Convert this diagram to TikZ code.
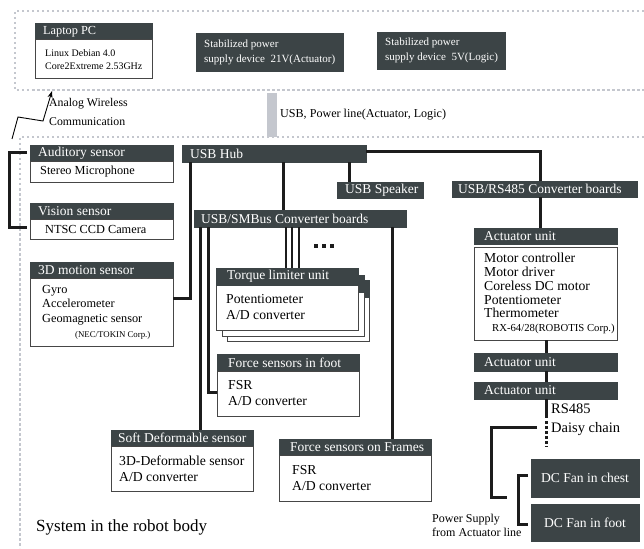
\documentclass[tikz,border=0pt]{standalone}
\usepackage{fontspec}
\setmainfont{Liberation Serif}
\usetikzlibrary{arrows.meta}
\definecolor{hdrc}{RGB}{60,68,70}
\definecolor{dotc}{RGB}{196,199,206}
\definecolor{linec}{RGB}{28,28,28}
\definecolor{bodyc}{RGB}{70,70,70}
\tikzset{
  hdrbox/.style={draw=hdrc, fill=hdrc, anchor=north west, inner sep=0pt, outer sep=0pt},
  bodybx/.style={draw=bodyc, line width=1pt, fill=white, anchor=north west, inner sep=0pt, outer sep=0pt},
  htext/.style={text=white, anchor=west, inner sep=0pt, align=left, font=\fontsize{13.5}{15}\selectfont},
  btext/.style={text=black, anchor=west, inner sep=0pt, align=left, font=\fontsize{13.7}{16}\selectfont},
  smallbody/.style={font=\fontsize{12.3}{14.7}\selectfont},
  fanbox/.style={hdrbox, text=white, minimum width=108pt, minimum height=38pt, font=\fontsize{13.6}{15}\selectfont},
  plain/.style={inner sep=0pt, anchor=west, align=left},
  conn/.style={draw=linec, line width=3pt},
  thinconn/.style={draw=linec, line width=2.5pt},
  dotborder/.style={draw=dotc, line width=2.5pt, dash pattern=on 2.5pt off 2.5pt},
}
\newcommand\hbx[7][]{%
  \node[hdrbox, minimum width=#5pt, minimum height=#6pt] (#2) at (#3,#4) {};
  \node[htext, #1] (#2t) at ([xshift=8pt]#2.west) {#7};
}
\newcommand\bbx[7][]{%
  \node[bodybx, minimum width=#5pt, minimum height=#6pt] (#2) at (#3,#4) {};
  \node[btext, #1] (#2t) at ([xshift=10pt]#2.west) {#7};
}
\begin{document}
\begin{tikzpicture}[x=1pt,y=-1pt]
\useasboundingbox (0,0) rectangle (644,548);
\fill[white] (0,0) rectangle (644,548);

% dotted regions
\draw[dotborder] (644,11) -- (15,11) -- (15,90) -- (644,90);
\draw[dotborder] (644,137) -- (20,137) -- (20,548);
\fill[dotc] (267,93) rectangle (277,137);

% top row
\hbx[font=\fontsize{12.3}{14}\selectfont]{lph}{35}{23}{117}{17}{Laptop PC}
\bbx[font=\fontsize{10}{13}\selectfont]{lpb}{35}{40}{117}{39}{Linux Debian 4.0\\Core2Extreme 2.53GHz}
\hbx[font=\fontsize{11}{15}\selectfont]{psa}{196}{33}{147}{38}{Stabilized power\\supply device\ \ 21V(Actuator)}
\hbx[font=\fontsize{11}{15}\selectfont]{psl}{377}{32}{128}{37}{Stabilized power\\supply device\ \ 5V(Logic)}

\node[plain, font=\fontsize{11.8}{19}\selectfont] (wl) at (49,112) {Analog Wireless\\Communication};
\node[plain, font=\fontsize{12.1}{14}\selectfont] (usbp) at (280,115) {USB, Power line(Actuator, Logic)};
\coordinate (wzs) at (12,139);
\coordinate (wze) at (52,91);
\draw[line width=0.9pt, -{Stealth[length=7pt,width=5pt]}] (wzs) -- ++(6,-22) -- ++(25,4) -- (wze);

% left sensors
\hbx{audh}{30}{145}{143}{16}{Auditory sensor}
\bbx[smallbody]{audb}{30}{161}{143}{21}{Stereo Microphone}
\hbx{vish}{30}{203}{143}{16}{Vision sensor}
\bbx[smallbody, xshift=5pt]{visb}{30}{219}{143}{20}{NTSC CCD Camera}
\hbx{moth}{30}{262}{143}{16}{3D motion sensor}
\bbx[smallbody, xshift=2pt]{motb}{30}{278}{143}{68}{Gyro\\Accelerometer\\Geomagnetic sensor\\\hspace*{33pt}{\fontsize{8.8}{10}\selectfont(NEC/TOKIN Corp.)}}
\coordinate (ba1) at (27,153);
\coordinate (ba2) at (27,227);
\draw[conn] (ba1) -- ++(-18,0) |- (ba2);

% hub and converters
\hbx{hub}{182}{145}{184}{17}{USB Hub}
\hbx[xshift=-1pt]{smb}{194}{210}{212}{17}{USB/SMBus Converter boards}
\hbx{spk}{337}{182}{86}{16}{USB Speaker}
\hbx[xshift=-2pt]{rs}{452}{181}{185}{16}{USB/RS485 Converter boards}

% actuators
\hbx[xshift=2pt]{act1}{474}{228}{143}{16}{Actuator unit}
\bbx[font=\fontsize{13.7}{13.8}\selectfont]{act1b}{474}{247}{143}{93}{Motor controller\\Motor driver\\Coreless DC motor\\Potentiometer\\Thermometer\\\hspace*{8pt}{\fontsize{10.7}{12}\selectfont RX-64/28(ROBOTIS Corp.)}}
\hbx[xshift=2pt]{act2}{474}{353}{143}{18}{Actuator unit}
\hbx[xshift=2pt]{act3}{474}{382}{143}{17}{Actuator unit}
\node[plain, font=\fontsize{14.5}{16}\selectfont] (rs485) at (551,409) {RS485};
\node[plain, font=\fontsize{14.5}{16}\selectfont] (daisy) at (551,429) {Daisy chain};

% fans
\node[fanbox] (fanc) at (531,459) {DC Fan in chest};
\node[fanbox, minimum height=37pt] (fanf) at (531,504) {DC Fan in foot};
\node[plain, font=\fontsize{12}{14}\selectfont] (pws) at (432,525) {Power Supply\\from Actuator line};

% torque stack
\node[bodybx, minimum width=142pt, minimum height=61pt] (tq3) at (227,280) {};
\node[hdrbox, minimum width=142pt, minimum height=17pt] (tq3h) at (227,280) {};
\node[bodybx, minimum width=142pt, minimum height=61pt] (tq2) at (222,275) {};
\node[hdrbox, minimum width=142pt, minimum height=17pt] (tq2h) at (222,275) {};
\bbx{tqb}{216}{285}{142}{45}{Potentiometer\\A/D converter}
\hbx[xshift=3pt]{tqh}{216}{268}{142}{17}{Torque limiter unit}

% other sensor boxes
\hbx[xshift=3pt]{ffh}{217}{354}{142}{17}{Force sensors in foot}
\bbx[xshift=1pt]{ffb}{217}{371}{142}{45}{FSR\\A/D converter}
\hbx[xshift=-1pt]{sdh}{111}{430}{142}{16}{Soft Deformable sensor}
\bbx[xshift=-2pt]{sdb}{111}{446}{142}{45}{3D-Deformable sensor\\A/D converter}
\hbx[xshift=3pt]{frh}{279}{439}{152}{16}{Force sensors on Frames}
\bbx[xshift=3pt]{frb}{279}{455}{152}{46}{FSR\\A/D converter}

\node[plain, font=\fontsize{17}{20}\selectfont] (sys) at (36,527) {System in the robot body};

% connectors
\draw[conn] ([xshift=8pt]hub.south west) |- ([yshift=-20pt]motb.north east);
\draw[conn] ([xshift=101pt]hub.south west) -- ([xshift=89pt]smb.north west);
\draw[conn] ([xshift=167pt]hub.south west) -- ([xshift=12pt]spk.north west);
\draw[conn] ([yshift=1.5pt]hub.east) -| ([xshift=88pt]rs.north west);
\draw[conn] ([xshift=88pt]rs.south west) -- ([xshift=66pt]act1.north west);
\draw[conn] ([xshift=72pt]act1b.south west) -- ([xshift=72pt]act2.north west);
\draw[conn] ([xshift=72pt]act2.south west) -- ([xshift=72pt]act3.north west);
\coordinate (ch1) at ([xshift=72pt,yshift=-19pt]act3.south west);
\coordinate (ch2) at ([xshift=72pt,yshift=-48pt]act3.south west);
\draw[conn] ([xshift=72pt]act3.south west) -- (ch1);
\draw[conn, dash pattern=on 3pt off 2pt] ([yshift=-3pt]ch1) -- (ch2);
\coordinate (br1) at (537,427);
\coordinate (br2) at (507,497);
\draw[conn] (br1) -- ++(-46,0) |- (br2);
\coordinate (bq1) at (528,475);
\coordinate (bq2) at (528,524);
\draw[conn] (bq1) -- ++(-10,0) |- (bq2);

\draw[thinconn] ([xshift=92pt]smb.south west) -- ([xshift=70pt]tqh.north west);
\draw[thinconn] ([xshift=98pt]smb.south west) -- ([xshift=76pt]tqh.north west);
\draw[thinconn] ([xshift=105pt]smb.south west) -- ([xshift=83pt]tqh.north west);
\draw[conn] ([xshift=6pt]smb.south west) -- ([xshift=89pt]sdh.north west);
\draw[conn] ([xshift=14pt]smb.south west) |- ([yshift=-21pt]ffb.north west);
\draw[conn] ([xshift=198pt]smb.south west) -- ([xshift=113pt]frh.north west);

\fill[linec] (314,244) rectangle ++(4,4);
\fill[linec] (322,244) rectangle ++(4,4);
\fill[linec] (330,244) rectangle ++(4,4);
\end{tikzpicture}
\end{document}
